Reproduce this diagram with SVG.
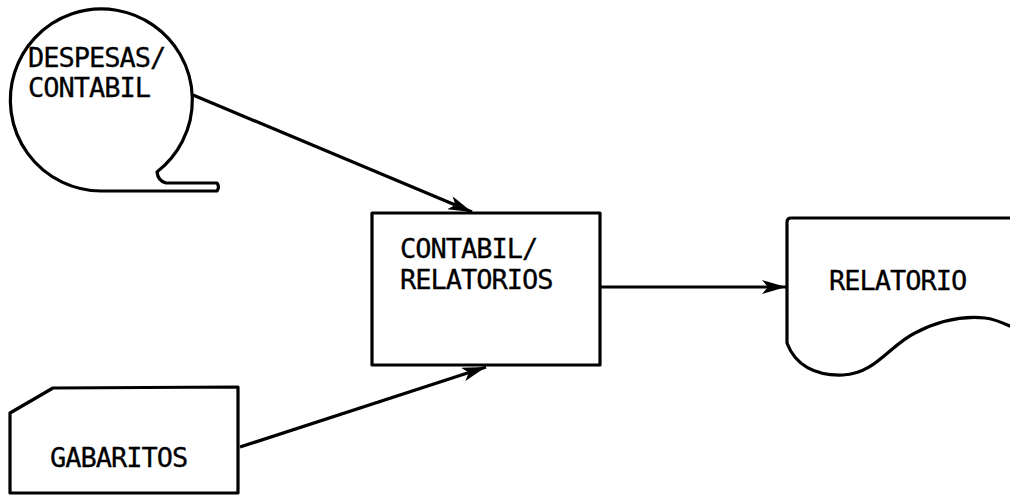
<svg xmlns="http://www.w3.org/2000/svg" width="1010" height="495" viewBox="0 0 1010 495">
<style>
.shape{fill:none;stroke:#000;stroke-width:3.2;stroke-linejoin:round;stroke-linecap:round}
.conn{fill:none;stroke:#000;stroke-width:3.2}
.lbl{font-family:"DejaVu Sans Mono","Liberation Mono",monospace;font-size:27px;letter-spacing:-1px;fill:#000;stroke:#000;stroke-width:0.3px}
</style>
<defs>
<marker id="ah" markerUnits="userSpaceOnUse" markerWidth="26" markerHeight="14" refX="24" refY="7" orient="auto">
<path d="M0,0 L24,7 L0,14 L6,7 z" fill="#000"/>
</marker>
</defs>
<rect width="1010" height="495" fill="#fff"/>
<g id="connectors">
<line class="conn" x1="193" y1="95" x2="472" y2="212" marker-end="url(#ah)"/>
<line class="conn" x1="240" y1="447" x2="486" y2="367" marker-end="url(#ah)"/>
<line class="conn" x1="600" y1="287" x2="786" y2="287" marker-end="url(#ah)"/>
</g>
<g id="tape-despesas">
<path class="shape" d="M157,172 A91,91 0 1 0 101,191 L217,191 Q220,187 217,183 L166,183 Q158,181 157,172"/>
<text class="lbl" x="28" y="67">DESPESAS/</text>
<text class="lbl" x="28" y="97">CONTABIL</text>
</g>
<g id="process-contabil">
<rect class="shape" x="372" y="213" width="228" height="152"/>
<text class="lbl" x="400" y="258">CONTABIL/</text>
<text class="lbl" x="400" y="289">RELATORIOS</text>
</g>
<g id="document-relatorio">
<path class="shape" d="M1012,218 L791,218 Q787,218 787,222 L787,343 C795,365 815,376 843,375 C875,374 890,345 915,333 C940,320 965,316 985,318 C995,319 1003,323 1012,327"/>
<text class="lbl" x="829" y="290">RELATORIO</text>
</g>
<g id="card-gabaritos">
<path class="shape" d="M10,493 L10,413 L53,388 L238,387 L238,493 Z"/>
<text class="lbl" x="50" y="467">GABARITOS</text>
</g>
</svg>
